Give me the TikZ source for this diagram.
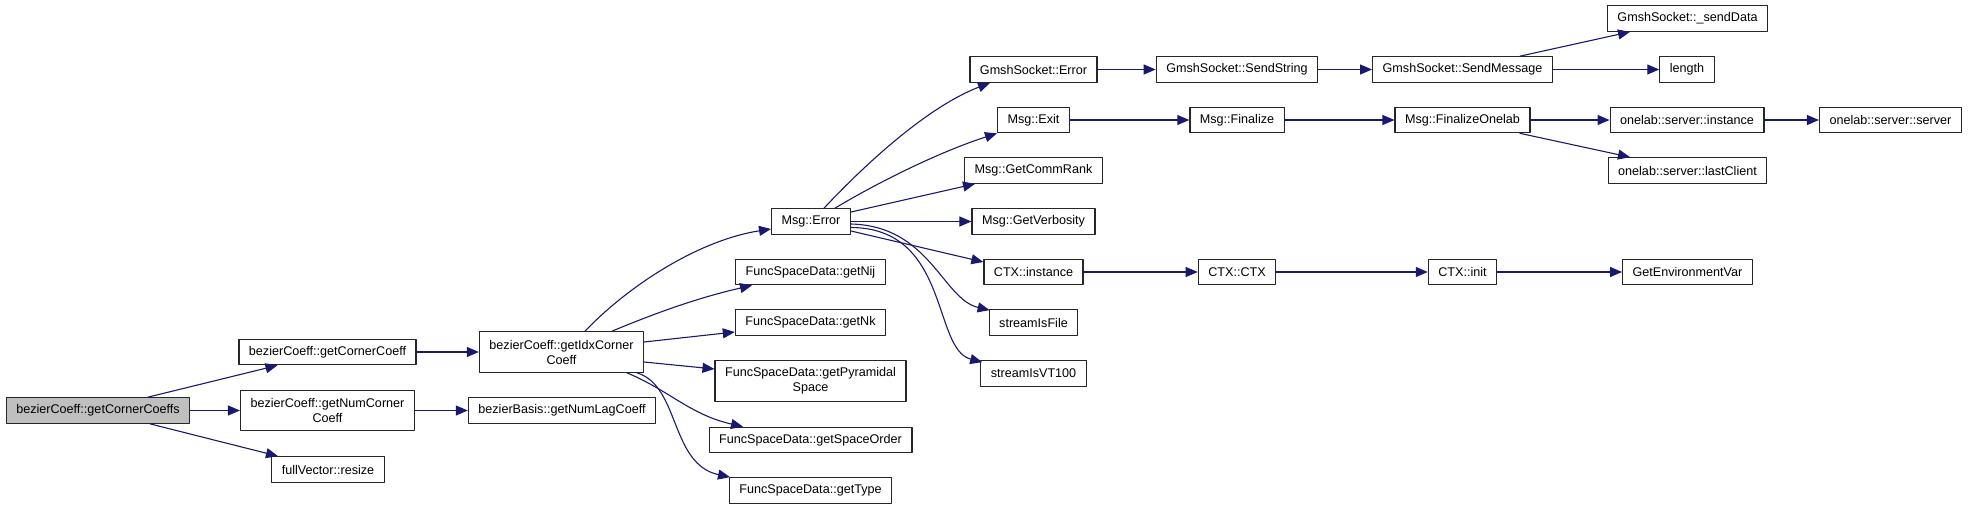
\documentclass[tikz,border=0pt]{standalone}
\usepackage{fontspec}
\setmainfont{Liberation Sans}
\usetikzlibrary{arrows.meta,calc}

\definecolor{midnight}{HTML}{191970}
\definecolor{rootgray}{HTML}{BFBFBF}

\begin{document}
\begin{tikzpicture}[
		x=1pt, y=-1pt,
		line cap=round, line join=round,
		>={Triangle[length=12pt,width=10pt]},
		% --- boxes and calls ---
		fn/.style={draw=black!85, line width=1.2pt, fill=white, inner xsep=10pt, inner ysep=0pt,
			minimum height=25.5pt, align=center, font=\fontsize{12.6}{15}\selectfont},
		fntwo/.style={fn, minimum height=40.5pt},
		root/.style={fn, fill=rootgray},
		call/.style={->, draw=midnight, line width=1.1pt}
		]
		
		\useasboundingbox (0,0) rectangle (1968,509);
		
		% ---------- Caller and first level ----------
		\node[root] (corners) at (98,410.5) {bezierCoeff::getCornerCoeffs};
		\node[fn] (cornerOne) at (327.5,352) {bezierCoeff::getCornerCoeff};
		\node[fntwo] (numCorner) at (327.5,410.5) {bezierCoeff::getNumCorner\\Coeff};
		\node[fn] (resize) at (328,469.5) {fullVector::resize};
		
		% ---------- Second level ----------
		\node[fntwo] (idx) at (561.5,352) {bezierCoeff::getIdxCorner\\Coeff};
		\node[fn] (numLag) at (562,410.5) {bezierBasis::getNumLagCoeff};
		
		% ---------- Third level ----------
		\node[fn] (msgError) at (811,221.5) {Msg::Error};
		\node[fn] (nij) at (810.5,272) {FuncSpaceData::getNij};
		\node[fn] (nk) at (810.5,322.5) {FuncSpaceData::getNk};
		\node[fntwo] (pyramidal) at (810.5,381) {FuncSpaceData::getPyramidal\\Space};
		\node[fn] (spaceOrder) at (810.5,440) {FuncSpaceData::getSpaceOrder};
		\node[fn] (getType) at (810.5,490.5) {FuncSpaceData::getType};
		
		% ---------- Callees of Msg::Error ----------
		\node[fn] (gsError) at (1033.5,69.5) {GmshSocket::Error};
		\node[fn] (exit) at (1033.5,120) {Msg::Exit};
		\node[fn] (commRank) at (1033.5,170.5) {Msg::GetCommRank};
		\node[fn] (verbosity) at (1033.5,221.5) {Msg::GetVerbosity};
		\node[fn] (ctxInstance) at (1033.5,272) {CTX::instance};
		\node[fn] (isFile) at (1033.5,322.5) {streamIsFile};
		\node[fn] (isVT) at (1033.5,373.5) {streamIsVT100};
		
		% ---------- Deeper chains ----------
		\node[fn] (sendString) at (1237,69.5) {GmshSocket::SendString};
		\node[fn] (finalize) at (1237,120) {Msg::Finalize};
		\node[fn] (ctxCtx) at (1237,272) {CTX::CTX};
		\node[fn] (sendMessage) at (1462.5,69.5) {GmshSocket::SendMessage};
		\node[fn] (finalizeOnelab) at (1462.5,120) {Msg::FinalizeOnelab};
		\node[fn] (ctxInit) at (1462.5,272) {CTX::init};
		\node[fn] (sendData) at (1687.5,18.5) {GmshSocket::\_sendData};
		\node[fn] (length) at (1687,69.5) {length};
		\node[fn] (olInstance) at (1687,120) {onelab::server::instance};
		\node[fn] (lastClient) at (1687.5,170.5) {onelab::server::lastClient};
		\node[fn] (getEnv) at (1687.5,272) {GetEnvironmentVar};
		\node[fn] (olServer) at (1890.5,120) {onelab::server::server};
		
		% ---------- Calls from the caller ----------
		\draw[call] ($(corners.north)+(50,0)$) -- ($(cornerOne.south)+(-50,0)$);
		\draw[call] (corners) -- (numCorner);
		\draw[call] ($(corners.south)+(52,0)$) -- ($(resize.north)+(-50,0)$);
		\draw[call] (cornerOne) -- (idx);
		\draw[call] (numCorner) -- (numLag);
		
		% ---------- Calls from getIdxCornerCoeff ----------
		\draw[call] ($(idx.north)+(23.5,0)$) .. controls +(45,-47) and +(-71,11) .. ($(msgError.west)+(0,7.5)$);
		\draw[call] ($(idx.north)+(50.5,0)$) .. controls +(48,-20) and +(-52,12) .. ($(nij.south)+(-58.5,0)$);
		\draw[call] ($(idx.east)+(0,-10)$) -- ($(nk.west)+(0,9.5)$);
		\draw[call] ($(idx.east)+(0,10)$) -- ($(pyramidal.west)+(0,-12)$);
		\draw[call] ($(idx.south)+(65.5,0)$) .. controls +(43,18) and +(-53,-12) .. ($(spaceOrder.north)+(-67.5,0)$);
		\draw[call] ($(idx.south)+(75.5,0)$) .. controls +(43,13) and +(-60,-13) .. ($(getType.north)+(-80.5,0)$);
		
		% ---------- Calls from Msg::Error ----------
		\draw[call] ($(msgError.north)+(13,0)$) .. controls +(46,-49) and +(-60,23) .. ($(gsError.south)+(-43.5,0)$);
		\draw[call] ($(msgError.north)+(24,0)$) .. controls +(45,-27) and +(-56,18) .. (exit.south west);
		\draw[call] ($(msgError.east)+(0,-9.5)$) -- ($(commRank.south)+(-58.5,0)$);
		\draw[call] (msgError) -- (verbosity);
		\draw[call] ($(msgError.east)+(0,9.5)$) -- ($(ctxInstance.west)+(0,-10)$);
		\draw[call] ($(msgError.east)+(0,2.5)$) .. controls +(79,2) and +(-47,-11) .. ($(isFile.north west)+(1,1)$);
		\draw[call] ($(msgError.east)+(0,6)$) .. controls +(99,0.5) and +(-50,-13) .. ($(isVT.north west)+(2,2)$);
		
		% ---------- Chains to the right ----------
		\draw[call] (gsError) -- (sendString);
		\draw[call] (sendString) -- (sendMessage);
		\draw[call] ($(sendMessage.north)+(57.5,0)$) -- ($(sendData.south)+(-57.5,0)$);
		\draw[call] (sendMessage) -- (length);
		\draw[call] (exit) -- (finalize);
		\draw[call] (finalize) -- (finalizeOnelab);
		\draw[call] (finalizeOnelab) -- (olInstance);
		\draw[call] ($(finalizeOnelab.south)+(57.5,0)$) -- ($(lastClient.north)+(-57.5,0)$);
		\draw[call] (olInstance) -- (olServer);
		\draw[call] (ctxInstance) -- (ctxCtx);
		\draw[call] (ctxCtx) -- (ctxInit);
		\draw[call] (ctxInit) -- (getEnv);
		
	\end{tikzpicture}
\end{document}
